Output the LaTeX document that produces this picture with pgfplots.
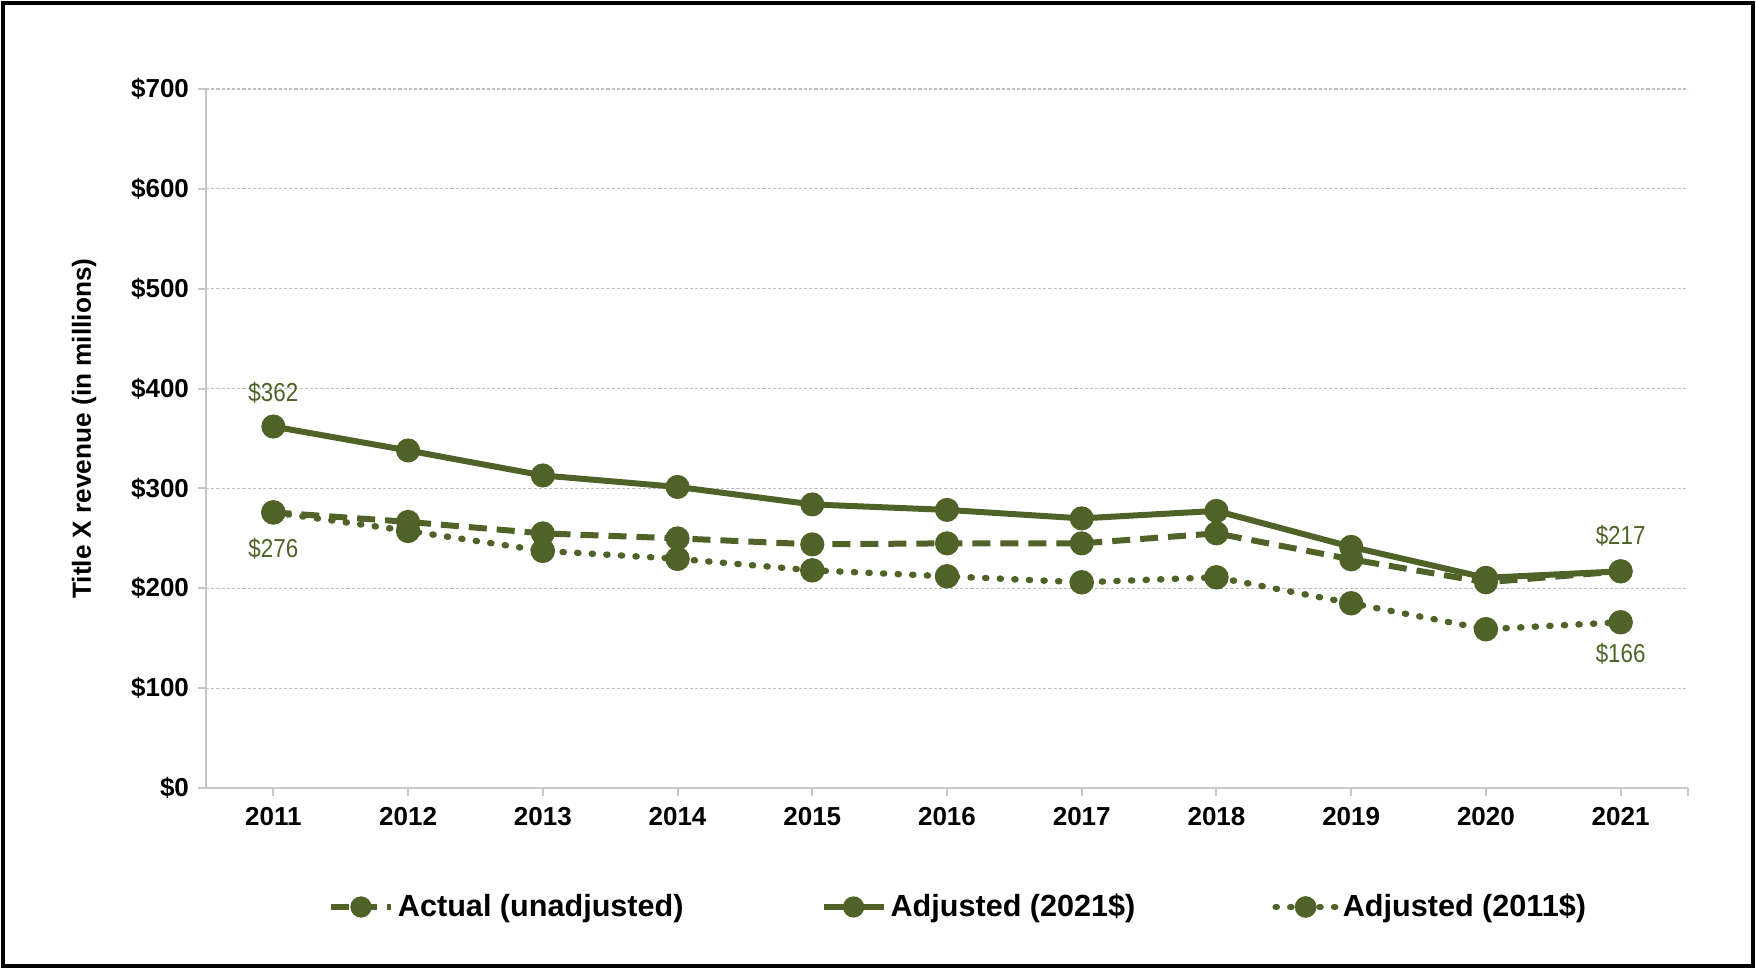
\documentclass[border=0pt]{standalone}
\usepackage{fontspec}
\setmainfont{Liberation Sans}
\newfontfamily\narrowfont[FakeStretch=0.86]{Liberation Sans}
\usepackage{pgfplots}
\pgfplotsset{compat=1.18}
\definecolor{olive}{HTML}{4F6228}
\definecolor{axgray}{HTML}{C8C8C8}
\definecolor{gridgray}{HTML}{BFBFBF}
\begin{document}
\begin{tikzpicture}
\useasboundingbox (-103bp,-90.5bp) rectangle (775bp,394bp);
\draw[line width=1.8bp] (-101.5bp,-89bp) rectangle (773.5bp,392.5bp);
\begin{axis}[
  at={(0,0)}, anchor=south west,
  scale only axis, width=741bp, height=349.5bp,
  xmin=-0.5, xmax=10.5, ymin=0, ymax=700,
  axis x line*=bottom, axis y line*=left,
  axis line style={axgray, line width=1bp},
  xtick={0,...,10},
  xticklabels={2011,2012,2013,2014,2015,2016,2017,2018,2019,2020,2021},
  extra x ticks={10.5}, extra x tick labels={},
  ytick={0,100,...,700},
  yticklabels={\$0,\$100,\$200,\$300,\$400,\$500,\$600,\$700},
  tick align=outside, major tick length=4bp,
  tick style={axgray, line width=1bp},
  ymajorgrids,
  grid style={gridgray, line width=0.6bp, dash pattern=on 1.6bp off 1bp},
  tick label style={font=\fontsize{13bp}{15bp}\selectfont\bfseries},
  xticklabel style={yshift=-2bp},
  yticklabel style={xshift=-1bp},
  ylabel={Title X revenue (in millions)},
  ylabel style={font=\fontsize{13.1bp}{15bp}\selectfont\bfseries, at={(axis description cs:-0.0823,0.514)}, anchor=center, rotate=0},
  clip=false,
  legend columns=3,
  legend style={draw=none, fill=none, at={(axis description cs:0.5,0)}, anchor=center, yshift=-59.5bp, xshift=6bp,
    font=\fontsize{15.3bp}{18bp}\selectfont\bfseries,
    /tikz/every even column/.append style={column sep=66.5bp}},
  legend image code/.code={\draw[mark repeat=2,mark phase=2,#1,mark size=3.8bp] plot coordinates {(0bp,0bp) (15bp,0bp) (30bp,0bp)};},
]
\addplot[olive, mark=*, mark size=4.5bp, mark options={solid, fill=olive, draw=olive}, line width=3bp, dash pattern=on 9bp off 5bp] coordinates {
(0,276) (1,266.5) (2,255) (3,250) (4,244) (5,245) (6,245) (7,255) (8,229) (9,206) (10,217)};
\addlegendentry{Actual (unadjusted)}
\addplot[olive, mark=*, mark size=4.5bp, mark options={solid, fill=olive, draw=olive}, line width=3bp, solid] coordinates {
(0,362) (1,338) (2,313) (3,301.5) (4,284) (5,278.5) (6,270) (7,277.5) (8,241.5) (9,210.5) (10,217)};
\addlegendentry{Adjusted (2021\$)}
\addplot[olive, mark=*, mark size=4.5bp, mark options={solid, fill=olive, draw=olive}, line width=3.2bp, line cap=round, dash pattern=on 0.6bp off 6.7bp] coordinates {
(0,276) (1,257.5) (2,237.5) (3,229.5) (4,218) (5,212) (6,206) (7,211) (8,185) (9,159) (10,166)};
\addlegendentry{Adjusted (2011\$)}
\node[olive, font=\fontsize{13bp}{15bp}\selectfont\narrowfont, yshift=17bp] at (axis cs:0,362) {\$362};
\node[olive, font=\fontsize{13bp}{15bp}\selectfont\narrowfont, yshift=-18bp] at (axis cs:0,276) {\$276};
\node[olive, font=\fontsize{13bp}{15bp}\selectfont\narrowfont, yshift=18bp] at (axis cs:10,217) {\$217};
\node[olive, font=\fontsize{13bp}{15bp}\selectfont\narrowfont, yshift=-16bp] at (axis cs:10,166) {\$166};
\end{axis}
\end{tikzpicture}
\end{document}
